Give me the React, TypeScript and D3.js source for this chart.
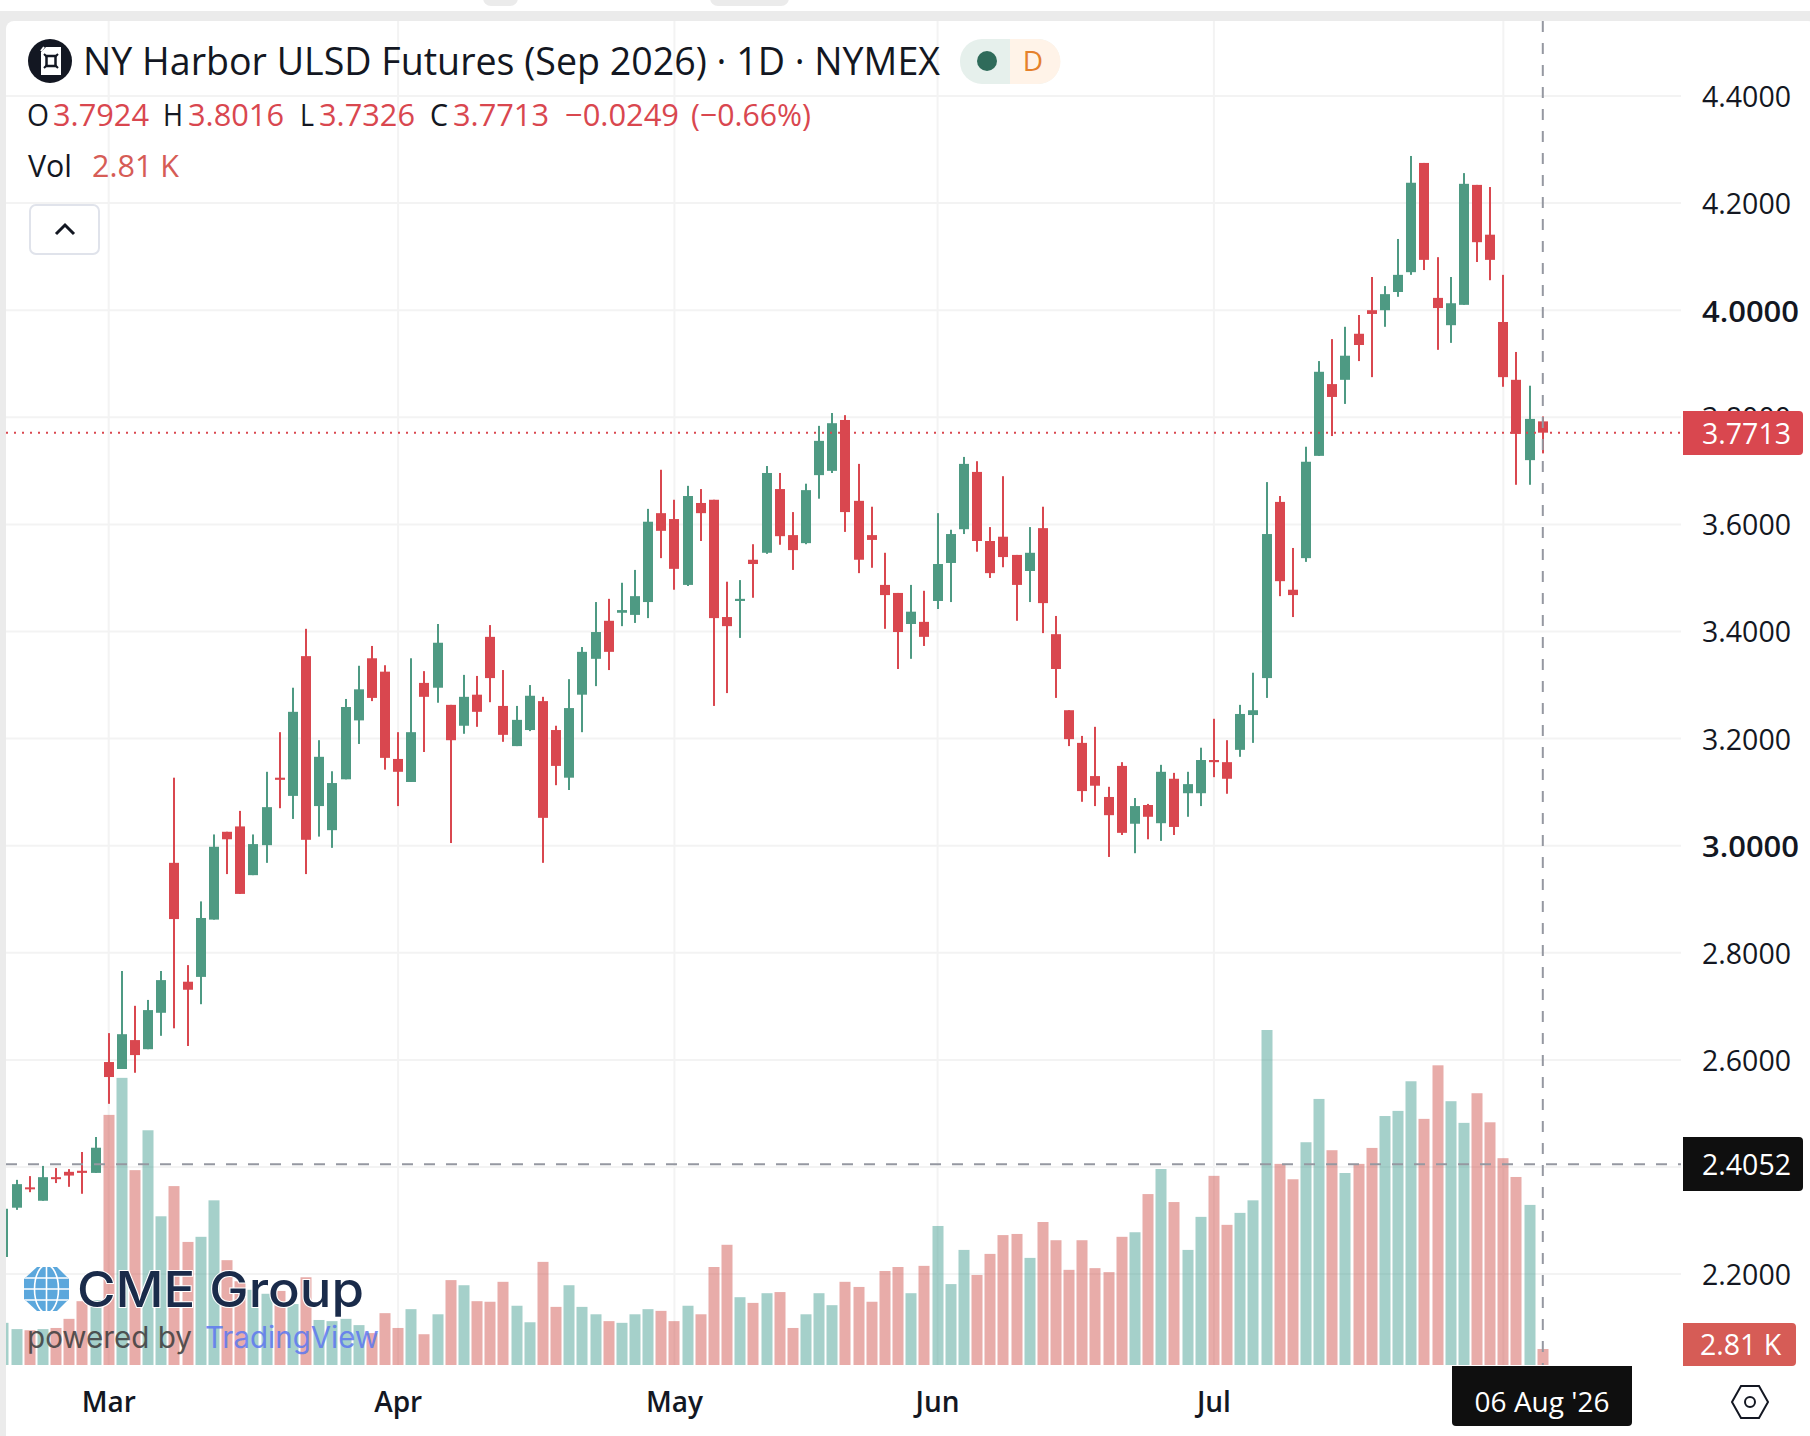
import React from 'react';
import * as d3 from 'd3';

const opens = [
  2.232, 2.324, 2.362, 2.337, 2.381, 2.391, 2.393, 2.389, 2.596, 2.583,
  2.637, 2.620, 2.688, 2.968, 2.746, 2.755, 2.862, 3.026, 3.036, 2.945,
  3.001, 3.127, 3.093, 3.354, 3.074, 3.029, 3.124, 3.234, 3.350, 3.325,
  3.162, 3.119, 3.304, 3.295, 3.263, 3.224, 3.282, 3.390, 3.261, 3.186,
  3.216, 3.270, 3.216, 3.127, 3.282, 3.349, 3.420, 3.435, 3.431, 3.455,
  3.621, 3.610, 3.487, 3.640, 3.646, 3.427, 3.457, 3.534, 3.547, 3.666,
  3.580, 3.565, 3.692, 3.700, 3.795, 3.644, 3.580, 3.487, 3.472, 3.414,
  3.418, 3.457, 3.528, 3.591, 3.698, 3.569, 3.577, 3.543, 3.513, 3.593,
  3.395, 3.253, 3.192, 3.130, 3.091, 3.149, 3.041, 3.076, 3.042, 3.125,
  3.098, 3.098, 3.160, 3.156, 3.179, 3.244, 3.313, 3.642, 3.478, 3.537,
  3.728, 3.862, 3.870, 3.956, 4.000, 4.000, 4.034, 4.071, 4.275, 4.023,
  3.972, 4.010, 4.234, 4.141, 3.978, 3.870, 3.720, 3.7924,
];
const highs = [
  2.330, 2.376, 2.383, 2.402, 2.398, 2.396, 2.428, 2.456, 2.650, 2.766,
  2.701, 2.712, 2.766, 3.127, 2.777, 2.896, 3.021, 3.026, 3.065, 3.021,
  3.138, 3.212, 3.295, 3.405, 3.197, 3.139, 3.274, 3.336, 3.373, 3.337,
  3.212, 3.350, 3.326, 3.414, 3.263, 3.319, 3.317, 3.412, 3.328, 3.261,
  3.300, 3.278, 3.224, 3.311, 3.371, 3.455, 3.461, 3.491, 3.515, 3.629,
  3.702, 3.646, 3.672, 3.666, 3.646, 3.493, 3.496, 3.563, 3.709, 3.696,
  3.623, 3.676, 3.784, 3.808, 3.804, 3.713, 3.633, 3.547, 3.472, 3.487,
  3.476, 3.621, 3.590, 3.726, 3.718, 3.595, 3.690, 3.543, 3.595, 3.633,
  3.429, 3.253, 3.205, 3.222, 3.110, 3.156, 3.089, 3.078, 3.151, 3.136,
  3.138, 3.183, 3.237, 3.197, 3.263, 3.323, 3.679, 3.653, 3.556, 3.745,
  3.905, 3.946, 3.969, 3.991, 4.062, 4.045, 4.133, 4.288, 4.275, 4.099,
  4.062, 4.256, 4.234, 4.230, 4.066, 3.922, 3.859, 3.8016,
];
const lows = [
  2.215, 2.320, 2.353, 2.337, 2.370, 2.363, 2.350, 2.389, 2.518, 2.583,
  2.576, 2.620, 2.645, 2.659, 2.626, 2.704, 2.862, 2.947, 2.910, 2.945,
  2.968, 3.070, 3.050, 2.947, 3.017, 2.996, 3.124, 3.190, 3.270, 3.142,
  3.074, 3.119, 3.175, 3.267, 3.005, 3.209, 3.222, 3.268, 3.194, 3.186,
  3.214, 2.968, 3.113, 3.104, 3.212, 3.298, 3.328, 3.410, 3.416, 3.425,
  3.537, 3.478, 3.485, 3.569, 3.261, 3.285, 3.388, 3.463, 3.545, 3.562,
  3.515, 3.563, 3.648, 3.696, 3.586, 3.509, 3.519, 3.405, 3.330, 3.349,
  3.373, 3.442, 3.455, 3.582, 3.549, 3.500, 3.520, 3.420, 3.455, 3.397,
  3.276, 3.186, 3.082, 3.074, 2.979, 3.020, 2.986, 3.012, 3.009, 3.020,
  3.054, 3.074, 3.128, 3.097, 3.166, 3.192, 3.276, 3.466, 3.427, 3.530,
  3.728, 3.765, 3.825, 3.905, 3.875, 3.969, 4.025, 4.066, 4.075, 3.926,
  3.939, 4.010, 4.090, 4.056, 3.857, 3.674, 3.674, 3.7326,
];
const closes = [
  2.322, 2.368, 2.359, 2.381, 2.378, 2.384, 2.389, 2.436, 2.568, 2.648,
  2.609, 2.693, 2.749, 2.863, 2.731, 2.865, 2.998, 3.012, 2.910, 3.003,
  3.072, 3.123, 3.250, 3.011, 3.166, 3.117, 3.259, 3.292, 3.276, 3.164,
  3.138, 3.212, 3.278, 3.379, 3.197, 3.278, 3.250, 3.313, 3.207, 3.235,
  3.280, 3.052, 3.149, 3.257, 3.362, 3.399, 3.362, 3.440, 3.466, 3.605,
  3.588, 3.517, 3.653, 3.621, 3.425, 3.410, 3.461, 3.526, 3.696, 3.578,
  3.552, 3.664, 3.756, 3.789, 3.623, 3.534, 3.571, 3.468, 3.399, 3.437,
  3.390, 3.526, 3.582, 3.713, 3.569, 3.509, 3.539, 3.487, 3.547, 3.453,
  3.330, 3.199, 3.102, 3.112, 3.057, 3.024, 3.074, 3.054, 3.138, 3.035,
  3.115, 3.160, 3.156, 3.125, 3.246, 3.253, 3.582, 3.494, 3.468, 3.717,
  3.885, 3.838, 3.915, 3.935, 3.993, 4.030, 4.066, 4.238, 4.094, 4.004,
  4.013, 4.236, 4.127, 4.094, 3.875, 3.769, 3.797, 3.7713,
];
// volume in thousands
const volumes = [
  7.4, 6.3, 6.1, 6.3, 6.5, 8.1, 11.2, 11.4, 43.9, 50.4,
  34.2, 41.2, 26.1, 31.4, 21.6, 22.5, 28.9, 18.4, 14.7, 13.2,
  12.5, 13.0, 10.7, 15.4, 7.9, 7.7, 8.1, 7.0, 5.6, 9.1,
  6.5, 9.8, 5.4, 8.9, 14.9, 14.0, 11.2, 11.1, 14.6, 10.4,
  7.5, 18.1, 10.2, 14.0, 10.2, 8.9, 7.7, 7.4, 8.9, 9.8,
  9.5, 7.7, 10.4, 8.9, 17.2, 21.1, 11.9, 10.9, 12.6, 12.8,
  6.5, 8.9, 12.6, 10.5, 14.6, 13.7, 11.1, 16.5, 17.2, 12.6,
  17.4, 24.4, 14.2, 20.2, 15.8, 19.5, 22.8, 23.0, 18.8, 25.1,
  21.9, 16.7, 21.9, 17.0, 16.3, 22.5, 23.3, 30.0, 34.4, 28.6,
  20.2, 26.0, 33.2, 24.6, 26.7, 28.9, 58.8, 35.3, 32.6, 39.1,
  46.7, 37.7, 33.7, 35.3, 38.1, 43.7, 44.6, 49.8, 43.2, 52.6,
  46.3, 42.5, 47.7, 42.6, 36.3, 33.0, 28.1, 2.81,
];

const priceTicks = [2.2, 2.4, 2.6, 2.8, 3.0, 3.2, 3.4, 3.6, 3.8, 4.0, 4.2, 4.4];
const boldTicks = [3.0, 4.0];
const monthLabels = ['Mar', 'Apr', 'May', 'Jun', 'Jul'];
const monthBars = [8, 30, 51, 71, 92];
const augBar = 114;
const lastPrice = 3.7713;
const crossPrice = 2.4052;

const UP = '#4E9A83';
const DOWN = '#D9474F';
const VOL_UP = 'rgba(75,161,149,0.5)';
const VOL_DOWN = 'rgba(209,89,83,0.5)';
const GRID = '#F3F3F3';
const TEXT = '#131722';
const CROSS = '#9598A1';
const FONT = '"Open Sans", sans-serif';

const x = d3.scaleLinear().domain([0, opens.length - 1]).range([3.44, 1542.8]);
const y = d3.scaleLinear().domain([2.2, 4.4]).range([1274.1, 96]);
const yVol = d3.scaleLinear().domain([0, 58.8]).range([1365, 1030]);

const PANE_LEFT = 6;
const PANE_RIGHT = 1681;
const PANE_TOP = 21;
const PANE_BOTTOM = 1365;

const legendRow = [
  { t: 'O', x: 27, c: TEXT, w: 22 },
  { t: '3.7924', x: 53, c: DOWN, w: 96 },
  { t: 'H', x: 163, c: TEXT, w: 20 },
  { t: '3.8016', x: 188, c: DOWN, w: 96 },
  { t: 'L', x: 300, c: TEXT, w: 14 },
  { t: '3.7326', x: 319, c: DOWN, w: 96 },
  { t: 'C', x: 430, c: TEXT, w: 18 },
  { t: '3.7713', x: 453, c: DOWN, w: 96 },
  { t: '−0.0249', x: 565, c: DOWN, w: 114 },
  { t: '(−0.66%)', x: 691, c: DOWN, w: 120 },
];

export default function App() {
  const bars = d3.range(opens.length);
  return (
    <svg width={1810} height={1436} style={{ position: 'absolute', left: 0, top: 0, display: 'block' }} fontFamily={FONT}>
      <defs>
        <clipPath id="pane">
          <rect x={PANE_LEFT} y={PANE_TOP} width={PANE_RIGHT - PANE_LEFT} height={PANE_BOTTOM - PANE_TOP} />
        </clipPath>
        <clipPath id="globe">
          <path d="M37 1267H57L69 1279V1299L57 1311H37L24 1299V1279Z" />
        </clipPath>
      </defs>

      {/* page frame */}
      <rect x={0} y={0} width={1810} height={1436} fill="#ebebeb" />
      <rect x={0} y={0} width={1810} height={11} fill="#fff" />
      <rect x={483} y={-10} width={35} height={16} rx={8} fill="#ebebeb" />
      <rect x={710} y={-10} width={79} height={16} rx={8} fill="#ebebeb" />
      <rect x={PANE_LEFT} y={PANE_TOP} width={1810} height={1436} rx={8} fill="#fff" />

      {/* grid */}
      <g stroke={GRID} strokeWidth={2}>
        {priceTicks.map(t => (
          <line key={t} x1={PANE_LEFT} x2={PANE_RIGHT} y1={y(t)} y2={y(t)} />
        ))}
        {[...monthBars, augBar].map(b => (
          <line key={b} x1={x(b)} x2={x(b)} y1={PANE_TOP} y2={PANE_BOTTOM} />
        ))}
      </g>

      <g clipPath="url(#pane)">
        {/* volume */}
        {bars.map(i => (
          <rect
            key={i}
            x={Math.round(x(i)) - 5.5}
            width={11}
            y={yVol(volumes[i])}
            height={yVol(0) - yVol(volumes[i])}
            fill={closes[i] < opens[i] ? VOL_DOWN : VOL_UP}
          />
        ))}

        {/* candles */}
        {bars.map(i => {
          const c = closes[i] < opens[i] ? DOWN : UP;
          const cx = Math.round(x(i));
          const top = y(Math.max(opens[i], closes[i]));
          const bottom = y(Math.min(opens[i], closes[i]));
          return (
            <g key={i} fill={c}>
              <rect x={cx - 1} width={2} y={y(highs[i])} height={y(lows[i]) - y(highs[i])} />
              <rect x={cx - 5} width={10} y={top} height={Math.max(bottom - top, 2)} />
            </g>
          );
        })}
      </g>

      {/* last price line and crosshair */}
      <line x1={PANE_LEFT} x2={PANE_RIGHT} y1={y(lastPrice)} y2={y(lastPrice)} stroke={DOWN} strokeWidth={2} strokeDasharray="2 6" />
      <line x1={PANE_LEFT} x2={PANE_RIGHT} y1={y(crossPrice)} y2={y(crossPrice)} stroke={CROSS} strokeWidth={2} strokeDasharray="11 11" />
      <line x1={x(opens.length - 1)} x2={x(opens.length - 1)} y1={PANE_TOP} y2={PANE_BOTTOM} stroke={CROSS} strokeWidth={2} strokeDasharray="11 11" />

      {/* watermark */}
      <g clipPath="url(#globe)">
        <rect x={20} y={1262} width={54} height={54} fill="#5BA7DC" />
        <g fill="none" stroke="#fff" strokeWidth={1.6}>
          <ellipse cx={46.5} cy={1289} rx={12} ry={24} />
          <path d="M46.5 1264V1314M22 1289H72M22 1278H72M22 1300H72" />
        </g>
      </g>
      <text x={77} y={1307} fontFamily="Inter, sans-serif" fontWeight={500} fontSize={50} fill="#1A2B4A" stroke="#fff" strokeWidth={2} paintOrder="stroke" textLength={287} lengthAdjust="spacingAndGlyphs">CME Group</text>
      <text x={27} y={1348} fontFamily="Inter, sans-serif" fontSize={30} fill="#3c3c3c" opacity={0.85} textLength={165} lengthAdjust="spacingAndGlyphs">powered by</text>
      <text x={205} y={1348} fontFamily="Inter, sans-serif" fontSize={30} fill="#5E78F0" opacity={0.85} textLength={174} lengthAdjust="spacingAndGlyphs">TradingView</text>

      {/* price axis */}
      {priceTicks.map(t => (
        <text
          key={t}
          x={1702}
          y={y(t) + 1}
          dy="0.35em"
          fontSize={boldTicks.includes(t) ? 29.5 : 28.5}
          fontWeight={boldTicks.includes(t) ? 600 : 400}
          fill={TEXT}
          textLength={boldTicks.includes(t) ? 97 : 89}
          lengthAdjust="spacingAndGlyphs"
        >
          {t.toFixed(4)}
        </text>
      ))}
      <path d="M1683 411H1799a4 4 0 0 1 4 4V451a4 4 0 0 1 -4 4H1683Z" fill={DOWN} />
      <text x={1702} y={434} dy="0.35em" fontSize={28.5} fill="#fff" textLength={89}>{lastPrice.toFixed(4)}</text>
      <path d="M1683 1137H1799a4 4 0 0 1 4 4V1187a4 4 0 0 1 -4 4H1683Z" fill="#0F0F0F" />
      <text x={1702} y={1165} dy="0.35em" fontSize={28.5} fill="#fff" textLength={89}>{crossPrice.toFixed(4)}</text>
      <path d="M1683 1323H1792a4 4 0 0 1 4 4V1362a4 4 0 0 1 -4 4H1683Z" fill="#D65C56" />
      <text x={1700} y={1345} dy="0.35em" fontSize={28.5} fill="#fff">2.81 K</text>

      {/* time axis */}
      {monthLabels.map((m, i) => (
        <text key={m} x={x(monthBars[i])} y={1402} dy="0.35em" textAnchor="middle" fontSize={28} fontWeight={600} fill={TEXT}>{m}</text>
      ))}
      <path d="M1452 1366H1632V1422a4 4 0 0 1 -4 4H1456a4 4 0 0 1 -4 -4Z" fill="#0F0F0F" />
      <text x={1542} y={1402} dy="0.35em" textAnchor="middle" fontSize={28} fontWeight={500} fill="#fff">06 Aug '26</text>
      <g fill="none" stroke={TEXT} strokeWidth={2}>
        <path d="M1732 1402L1741 1386H1759L1768 1402L1759 1418H1741Z" />
        <circle cx={1750} cy={1402} r={5} />
      </g>

      {/* legend */}
      <circle cx={50} cy={61} r={22} fill={TEXT} />
      <path d="M46 47H61V75H41V52Z" fill="#fff" />
      <path d="M44 47L41 51" stroke="#fff" strokeWidth={2} />
      <rect x={46.5} y={56} width={9} height={10} fill="none" stroke={TEXT} strokeWidth={2.5} />
      <path d="M44 54L47 57M58 54L55 57M44 68L47 65M58 68L55 65" stroke={TEXT} strokeWidth={2} />
      <text x={83} y={75} fontSize={39} fill={TEXT} textLength={857} lengthAdjust="spacingAndGlyphs">NY Harbor ULSD Futures (Sep 2026) · 1D · NYMEX</text>
      <rect x={960} y={39} width={100} height={45} rx={22} fill="#E6F0EC" />
      <path d="M1010 39H1038a22 22 0 0 1 0 45H1010Z" fill="#FFF3E8" />
      <circle cx={987} cy={61} r={10} fill="#2F6B5A" />
      <text x={1033} y={61} dy="0.35em" textAnchor="middle" fontSize={28} fontWeight={500} fill="#E5812B">D</text>

      <g fontSize={31}>
        {legendRow.map(d => (
          <text key={d.t} x={d.x} y={126} fill={d.c} textLength={d.w} lengthAdjust="spacingAndGlyphs">{d.t}</text>
        ))}
        <text x={28} y={177} fill={TEXT} textLength={44} lengthAdjust="spacingAndGlyphs">Vol</text>
        <text x={92} y={177} fill="#D65C56" textLength={87} lengthAdjust="spacingAndGlyphs">2.81 K</text>
      </g>

      <rect x={30} y={205} width={69} height={49} rx={6} fill="#fff" stroke="#E0E3EB" strokeWidth={2} />
      <path d="M56 234L65 225L74 234" fill="none" stroke={TEXT} strokeWidth={3} />
    </svg>
  );
}
